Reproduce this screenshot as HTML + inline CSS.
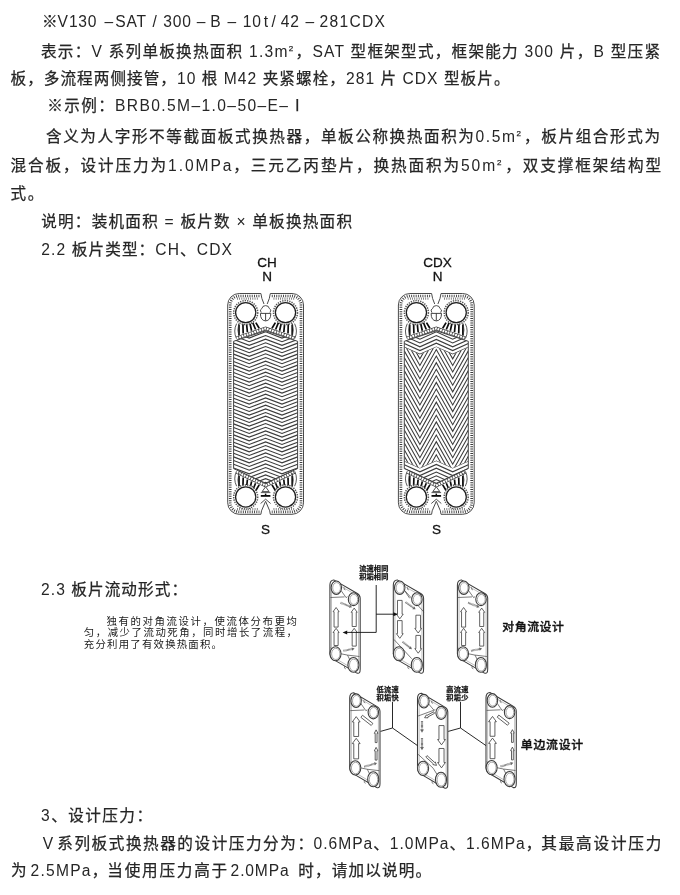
<!DOCTYPE html>
<html lang="zh">
<head>
<meta charset="utf-8">
<title>板式换热器 型号说明</title>
<style>
html,body{margin:0;padding:0;background:#fff;}
body{width:680px;height:895px;overflow:hidden;position:relative;}
svg{position:absolute;left:0;top:0;display:block;filter:grayscale(1);}
text{font-family:"Liberation Sans","Noto Sans CJK SC",sans-serif;fill:#262626;}
.t{font-size:15.6px;font-weight:400;stroke:#262626;stroke-width:0.25px;}
.e{stroke:none;}
.s{font-size:20.8px;font-weight:400;fill:#1a1a1a;}
.b{font-family:"Liberation Sans","Noto Sans CJK SC",sans-serif;font-weight:500;fill:#111;stroke:#111;stroke-width:0.35px;}
.lab{font-size:13.5px;font-weight:400;fill:#111;stroke:#111;stroke-width:0.3px;text-anchor:middle;}
.tiny{font-size:14.4px;font-weight:700;fill:#111;stroke:#111;stroke-width:0.5px;}
</style>
</head>
<body>
<svg width="680" height="895" viewBox="0 0 680 895">
<text class="t l" id="L0" y="26.5" xml:space="preserve"><tspan x="42.1">※</tspan><tspan class="e" x="57.4" letter-spacing="0.8">V </tspan><tspan class="e" x="68.9" letter-spacing="0.8">130 </tspan><tspan class="e" x="104.5" letter-spacing="0.8">– </tspan><tspan class="e" x="115.3" letter-spacing="0.8">SAT </tspan><tspan class="e" x="152.5" letter-spacing="0.8">/ </tspan><tspan class="e" x="163.2" letter-spacing="0.8">300 </tspan><tspan class="e" x="196.8" letter-spacing="0.8">– </tspan><tspan class="e" x="210.3" letter-spacing="0.8">B </tspan><tspan class="e" x="227.6" letter-spacing="0.8">– </tspan><tspan class="e" x="242.7" letter-spacing="0.8">10 </tspan><tspan class="e" x="263.8" letter-spacing="0.8">t </tspan><tspan class="e" x="271.6" letter-spacing="0.8">/ </tspan><tspan class="e" x="280.7" letter-spacing="0.8">42 </tspan><tspan class="e" x="305.6" letter-spacing="0.8">– </tspan><tspan class="e" x="319.5" textLength="65.5" lengthAdjust="spacing">281CDX</tspan></text>
<text class="t l" id="L0" x="41" y="56.5" textLength="619.0" lengthAdjust="spacing" xml:space="preserve">表示：<tspan class="e">V</tspan> 系列单板换热面积 <tspan class="e">1.3m</tspan><tspan dy="-6" font-size="8">2</tspan><tspan dy="6" font-size="15.6">​</tspan>，<tspan class="e">SAT</tspan> 型框架型式，框架能力 <tspan class="e">300</tspan> 片，<tspan class="e">B</tspan> 型压紧</text>
<text class="t l" id="L1" x="10.5" y="83.8" textLength="499.0" lengthAdjust="spacing" xml:space="preserve">板，多流程两侧接管，<tspan class="e">10</tspan> 根 <tspan class="e">M42</tspan> 夹紧螺栓，<tspan class="e">281</tspan> 片 <tspan class="e">CDX</tspan> 型板片。</text>
<text class="t l" id="L2" x="47.2" y="111.3" textLength="240.8" lengthAdjust="spacing" xml:space="preserve">※示例：<tspan class="e">BRB0.5M–1.0–50–E</tspan><tspan class="e">–</tspan></text>
<text class="t l" id="L3" x="46" y="141.5" textLength="614.0" lengthAdjust="spacing" xml:space="preserve">含义为人字形不等截面板式换热器，单板公称换热面积为<tspan class="e">0.5m</tspan><tspan dy="-6" font-size="8">2</tspan><tspan dy="6" font-size="15.6">​</tspan>，板片组合形式为</text>
<text class="t l" id="L4" x="10.5" y="170.5" textLength="650.5" lengthAdjust="spacing" xml:space="preserve">混合板，设计压力为<tspan class="e">1.0MPa</tspan>，三元乙丙垫片，换热面积为<tspan class="e">50m</tspan><tspan dy="-6" font-size="8">2</tspan><tspan dy="6" font-size="15.6">​</tspan>，双支撑框架结构型</text>
<text class="t l" id="L5" x="10.5" y="198.5" xml:space="preserve">式<tspan dx="1.6">。</tspan></text>
<text class="t l" id="L6" x="41.2" y="226.5" textLength="310.8" lengthAdjust="spacing" xml:space="preserve">说明：装机面积 <tspan class="e">=</tspan> 板片数 <tspan class="e">×</tspan> 单板换热面积</text>
<text class="t l" id="L7" x="41.2" y="254.8" textLength="190.8" lengthAdjust="spacing" xml:space="preserve"><tspan class="e">2.2</tspan> 板片类型：<tspan class="e">CH</tspan>、<tspan class="e">CDX</tspan></text>
<text class="t l" id="L8" x="41" y="594.5" textLength="146.0" lengthAdjust="spacing" xml:space="preserve"><tspan class="e">2.3</tspan> 板片流动形式：</text>
<text class="t l" id="L9" x="41" y="820.6" textLength="111.0" lengthAdjust="spacing" xml:space="preserve"><tspan class="e">3</tspan>、设计压力：</text>
<text class="t l" id="L10" x="42.8" y="848.7" xml:space="preserve"><tspan class="e">V</tspan> </text>
<text class="t l" id="L11" x="57.3" y="848.7" textLength="255.7" lengthAdjust="spacing" xml:space="preserve">系列板式换热器的设计压力分为：</text>
<text class="t l" id="L12" x="313.6" y="848.7" textLength="227.7" lengthAdjust="spacing" xml:space="preserve"><tspan class="e">0.6MPa</tspan>、<tspan class="e">1.0MPa</tspan>、<tspan class="e">1.6MPa</tspan>，</text>
<text class="t l" id="L13" x="541.3" y="848.7" textLength="120.0" lengthAdjust="spacing" xml:space="preserve">其最高设计压力</text>
<text class="t l" id="L14" x="11" y="876.3" xml:space="preserve">为 </text>
<text class="t l" id="L15" x="30.6" y="876.3" textLength="76.7" lengthAdjust="spacing" xml:space="preserve"><tspan class="e">2.5MPa</tspan>，</text>
<text class="t l" id="L16" x="107.3" y="876.3" textLength="119.9" lengthAdjust="spacing" xml:space="preserve">当使用压力高于</text>
<text class="t l" id="L17" x="230.6" y="876.3" textLength="58.0" lengthAdjust="spacing" xml:space="preserve"><tspan class="e">2.0MPa</tspan></text>
<text class="t l" id="L18" x="298.3" y="876.3" textLength="132.7" lengthAdjust="spacing" xml:space="preserve">时，请加以说明。</text>
<text class="t l" x="289.6" y="111.3">Ⅰ</text>
<text class="s l" id="S0" transform="translate(106.5 624.8) scale(0.5)" x="0" y="0" textLength="381.0" lengthAdjust="spacing">独有的对角流设计，使流体分布更均</text>
<text class="s l" id="S1" transform="translate(83.8 635.6) scale(0.5)" x="0" y="0" textLength="426.4" lengthAdjust="spacing">匀，减少了流动死角，同时增长了流程，</text>
<text class="s l" id="S2" transform="translate(83.8 647.8) scale(0.5)" x="0" y="0" textLength="276.4" lengthAdjust="spacing">充分利用了有效换热面积。</text>
<text class="lab l" x="267.1" y="266.9">CH</text>
<text class="lab l" x="267.1" y="281.4">N</text>
<text class="lab l" x="265.6" y="534.1">S</text>
<text class="lab l" x="437.6" y="266.9">CDX</text>
<text class="lab l" x="437.6" y="281.4">N</text>
<text class="lab l" x="436.4" y="534.1">S</text>
<g><path d="M260.90000000000003,293.5 L239.20000000000002,293.5 A11.5,11.5 0 0 0 227.70000000000002,305.0 L227.70000000000002,502.79999999999995 A11.5,11.5 0 0 0 239.20000000000002,514.3 L260.90000000000003,514.3 L261.50000000000006,510.79999999999995 L265.6,501.29999999999995 L269.7,510.79999999999995 L270.3,514.3 L292.0,514.3 A11.5,11.5 0 0 0 303.5,502.79999999999995 L303.5,305.0 A11.5,11.5 0 0 0 292.0,293.5 L270.3,293.5 L269.3,298.5 L267.20000000000005,304.0 M264.0,304.0 L261.90000000000003,298.5 L260.90000000000003,293.5" fill="none" stroke="#4a4a4a" stroke-width="1.0" stroke-linejoin="round"/>
<path d="M259.40000000000003,296.0 L239.20000000000002,296.0 A9.0,9.0 0 0 0 230.20000000000002,305.0 L230.20000000000002,502.79999999999995 A9.0,9.0 0 0 0 239.20000000000002,511.79999999999995 L259.40000000000003,511.79999999999995" fill="none" stroke="#3a3a3a" stroke-width="2.7" stroke-dasharray="0.9 1.35"/>
<path d="M259.40000000000003,296.0 L239.20000000000002,296.0 A9.0,9.0 0 0 0 230.20000000000002,305.0 L230.20000000000002,502.79999999999995 A9.0,9.0 0 0 0 239.20000000000002,511.79999999999995 L259.40000000000003,511.79999999999995" fill="none" stroke="#fff" stroke-width="0.7" stroke-dasharray="0.9 1.35" stroke-opacity="0"/>
<path d="M271.8,296.0 L292.0,296.0 A9.0,9.0 0 0 1 301.0,305.0 L301.0,502.79999999999995 A9.0,9.0 0 0 1 292.0,511.79999999999995 L271.8,511.79999999999995" fill="none" stroke="#3a3a3a" stroke-width="2.7" stroke-dasharray="0.9 1.35"/>
<path d="M271.8,296.0 L292.0,296.0 A9.0,9.0 0 0 1 301.0,305.0 L301.0,502.79999999999995 A9.0,9.0 0 0 1 292.0,511.79999999999995 L271.8,511.79999999999995" fill="none" stroke="#fff" stroke-width="0.7" stroke-dasharray="0.9 1.35" stroke-opacity="0"/>
<path d="M257.6,298.7 L236.60000000000002,298.7" fill="none" stroke="#555" stroke-width="2.2" stroke-dasharray="0.7 1.5"/>
<path d="M273.6,298.7 L294.6,298.7" fill="none" stroke="#555" stroke-width="2.2" stroke-dasharray="0.7 1.5"/>
<path d="M257.6,509.09999999999997 L236.60000000000002,509.09999999999997" fill="none" stroke="#555" stroke-width="2.2" stroke-dasharray="0.7 1.5"/>
<path d="M273.6,509.09999999999997 L294.6,509.09999999999997" fill="none" stroke="#555" stroke-width="2.2" stroke-dasharray="0.7 1.5"/>
<clipPath id="cp1"><path d="M233.60000000000002,341.3 L265.6,330.8 L297.6,341.3 L297.6,468.6 L265.6,483.2 L233.60000000000002,468.6 Z"/></clipPath>
<path clip-path="url(#cp1)" d="M233.6,321.10 L249.2,327.03 L265.6,320.80 L282.0,327.03 L297.6,321.10 M233.6,324.77 L249.2,330.70 L265.6,324.47 L282.0,330.70 L297.6,324.77 M233.6,328.44 L249.2,334.37 L265.6,328.14 L282.0,334.37 L297.6,328.44 M233.6,332.11 L249.2,338.04 L265.6,331.81 L282.0,338.04 L297.6,332.11 M233.6,335.78 L249.2,341.71 L265.6,335.48 L282.0,341.71 L297.6,335.78 M233.6,339.45 L249.2,345.38 L265.6,339.15 L282.0,345.38 L297.6,339.45 M233.6,343.12 L249.2,349.05 L265.6,342.82 L282.0,349.05 L297.6,343.12 M233.6,346.79 L249.2,352.72 L265.6,346.49 L282.0,352.72 L297.6,346.79 M233.6,350.46 L249.2,356.39 L265.6,350.16 L282.0,356.39 L297.6,350.46 M233.6,354.13 L249.2,360.06 L265.6,353.83 L282.0,360.06 L297.6,354.13 M233.6,357.80 L249.2,363.73 L265.6,357.50 L282.0,363.73 L297.6,357.80 M233.6,361.47 L249.2,367.40 L265.6,361.17 L282.0,367.40 L297.6,361.47 M233.6,365.14 L249.2,371.07 L265.6,364.84 L282.0,371.07 L297.6,365.14 M233.6,368.81 L249.2,374.74 L265.6,368.51 L282.0,374.74 L297.6,368.81 M233.6,372.48 L249.2,378.41 L265.6,372.18 L282.0,378.41 L297.6,372.48 M233.6,376.15 L249.2,382.08 L265.6,375.85 L282.0,382.08 L297.6,376.15 M233.6,379.82 L249.2,385.75 L265.6,379.52 L282.0,385.75 L297.6,379.82 M233.6,383.49 L249.2,389.42 L265.6,383.19 L282.0,389.42 L297.6,383.49 M233.6,387.16 L249.2,393.09 L265.6,386.86 L282.0,393.09 L297.6,387.16 M233.6,390.83 L249.2,396.76 L265.6,390.53 L282.0,396.76 L297.6,390.83 M233.6,394.50 L249.2,400.43 L265.6,394.20 L282.0,400.43 L297.6,394.50 M233.6,398.17 L249.2,404.10 L265.6,397.87 L282.0,404.10 L297.6,398.17 M233.6,401.84 L249.2,407.77 L265.6,401.54 L282.0,407.77 L297.6,401.84 M233.6,405.51 L249.2,411.44 L265.6,405.21 L282.0,411.44 L297.6,405.51 M233.6,409.18 L249.2,415.11 L265.6,408.88 L282.0,415.11 L297.6,409.18 M233.6,412.85 L249.2,418.78 L265.6,412.55 L282.0,418.78 L297.6,412.85 M233.6,416.52 L249.2,422.45 L265.6,416.22 L282.0,422.45 L297.6,416.52 M233.6,420.19 L249.2,426.12 L265.6,419.89 L282.0,426.12 L297.6,420.19 M233.6,423.86 L249.2,429.79 L265.6,423.56 L282.0,429.79 L297.6,423.86 M233.6,427.53 L249.2,433.46 L265.6,427.23 L282.0,433.46 L297.6,427.53 M233.6,431.20 L249.2,437.13 L265.6,430.90 L282.0,437.13 L297.6,431.20 M233.6,434.87 L249.2,440.80 L265.6,434.57 L282.0,440.80 L297.6,434.87 M233.6,438.54 L249.2,444.47 L265.6,438.24 L282.0,444.47 L297.6,438.54 M233.6,442.21 L249.2,448.14 L265.6,441.91 L282.0,448.14 L297.6,442.21 M233.6,445.88 L249.2,451.81 L265.6,445.58 L282.0,451.81 L297.6,445.88 M233.6,449.55 L249.2,455.48 L265.6,449.25 L282.0,455.48 L297.6,449.55 M233.6,453.22 L249.2,459.15 L265.6,452.92 L282.0,459.15 L297.6,453.22 M233.6,456.89 L249.2,462.82 L265.6,456.59 L282.0,462.82 L297.6,456.89 M233.6,460.56 L249.2,466.49 L265.6,460.26 L282.0,466.49 L297.6,460.56 M233.6,464.23 L249.2,470.16 L265.6,463.93 L282.0,470.16 L297.6,464.23 M233.6,467.90 L249.2,473.83 L265.6,467.60 L282.0,473.83 L297.6,467.90 M233.6,471.57 L249.2,477.50 L265.6,471.27 L282.0,477.50 L297.6,471.57 M233.6,475.24 L249.2,481.17 L265.6,474.94 L282.0,481.17 L297.6,475.24 M233.6,478.91 L249.2,484.84 L265.6,478.61 L282.0,484.84 L297.6,478.91 M233.6,482.58 L249.2,488.51 L265.6,482.28 L282.0,488.51 L297.6,482.58 M233.6,486.25 L249.2,492.18 L265.6,485.95 L282.0,492.18 L297.6,486.25 M233.6,489.92 L249.2,495.85 L265.6,489.62 L282.0,495.85 L297.6,489.92" fill="none" stroke="#3c3c3c" stroke-width="1.12"/>
<path d="M233.60000000000002,341.3 L265.6,330.8 L297.6,341.3 L297.6,468.6 L265.6,483.2 L233.60000000000002,468.6 Z" fill="none" stroke="#303030" stroke-width="0.9"/>
<path d="M236.60000000000002,338.1 L265.6,328.5 L294.6,338.1" fill="none" stroke="#3c3c3c" stroke-width="3.6" stroke-linejoin="miter"/>
<path d="M236.60000000000002,338.1 L265.6,328.5 L294.6,338.1" fill="none" stroke="#fff" stroke-width="2.3" stroke-dasharray="1.9 0.75"/>
<path d="M236.60000000000002,471.8 L265.6,485.5 L294.6,471.8" fill="none" stroke="#3c3c3c" stroke-width="3.6" stroke-linejoin="miter"/>
<path d="M236.60000000000002,471.8 L265.6,485.5 L294.6,471.8" fill="none" stroke="#fff" stroke-width="2.3" stroke-dasharray="1.9 0.75"/>
<path d="M239.00,334.93 L239.00,324.43 M239.00,475.66 L239.00,486.16 M292.20,334.93 L292.20,324.43 M292.20,475.66 L292.20,486.16 M243.20,333.55 L242.89,323.05 M243.20,477.58 L242.89,488.08 M288.00,333.55 L288.31,323.05 M288.00,477.58 L288.31,488.08 M247.40,332.17 L246.46,322.75 M247.40,479.50 L246.46,488.92 M283.80,332.17 L284.74,322.75 M283.80,479.50 L284.74,488.92 M251.60,330.79 L249.82,322.71 M251.60,481.41 L249.82,489.49 M279.60,330.79 L281.38,322.71 M279.60,481.41 L281.38,489.49 M255.60,329.48 L252.74,322.68 M255.60,483.24 L252.74,490.04 M275.60,329.48 L278.46,322.68 M275.60,483.24 L278.46,490.04 M259.20,328.30 L255.81,322.65 M259.20,484.88 L255.81,490.53 M272.00,328.30 L275.39,322.65 M272.00,484.88 L275.39,490.53" fill="none" stroke="#0c0c0c" stroke-width="1.7"/>
<path d="M236.60000000000002,323.6 Q233.00000000000003,331 236.40000000000003,338.5 M238.80000000000004,323.4 Q237.00000000000003,330 239.00000000000003,336.8" fill="none" stroke="#303030" stroke-width="0.8"/>
<path d="M236.60000000000002,486.2 Q233.00000000000003,479 236.40000000000003,471.4 M238.80000000000004,486.4 Q237.00000000000003,480 239.00000000000003,473" fill="none" stroke="#303030" stroke-width="0.8"/>
<path d="M294.6,323.6 Q298.2,331 294.8,338.5 M292.40000000000003,323.4 Q294.2,330 292.2,336.8" fill="none" stroke="#303030" stroke-width="0.8"/>
<path d="M294.6,486.2 Q298.2,479 294.8,471.4 M292.40000000000003,486.4 Q294.2,480 292.2,473" fill="none" stroke="#303030" stroke-width="0.8"/>
<circle cx="245.70000000000002" cy="312.6" r="12.0" fill="#fff" stroke="#555" stroke-width="1.5" stroke-dasharray="1.3 1.1"/>
<circle cx="245.70000000000002" cy="312.6" r="10.1" fill="#fff" stroke="#1e1e1e" stroke-width="1.25"/>
<circle cx="285.5" cy="312.6" r="12.0" fill="#fff" stroke="#555" stroke-width="1.5" stroke-dasharray="1.3 1.1"/>
<circle cx="285.5" cy="312.6" r="10.1" fill="#fff" stroke="#1e1e1e" stroke-width="1.25"/>
<circle cx="245.70000000000002" cy="496.9" r="12.0" fill="#fff" stroke="#555" stroke-width="1.5" stroke-dasharray="1.3 1.1"/>
<circle cx="245.70000000000002" cy="496.9" r="10.1" fill="#fff" stroke="#1e1e1e" stroke-width="1.25"/>
<circle cx="285.5" cy="496.9" r="12.0" fill="#fff" stroke="#555" stroke-width="1.5" stroke-dasharray="1.3 1.1"/>
<circle cx="285.5" cy="496.9" r="10.1" fill="#fff" stroke="#1e1e1e" stroke-width="1.25"/>
<path d="M261.20000000000005,312.6 Q259.0,309.6 262.0,308.4 Q262.20000000000005,305.7 265.6,305.6 Q269.0,305.7 269.20000000000005,308.4 Q272.20000000000005,309.6 270.0,312.6" fill="#fff" stroke="#303030" stroke-width="0.85"/>
<path d="M260.40000000000003,313.4 H270.8 Q270.8,320.6 265.6,320.9 Q260.40000000000003,320.6 260.40000000000003,313.4 Z M265.6,313.4 V320.6" fill="#fff" stroke="#303030" stroke-width="0.9"/>
<path d="M262.1,491.6 L265.6,486.8 L269.1,491.6 Z" fill="#fff" stroke="#303030" stroke-width="0.85"/>
<path d="M260.8,492.6 H270.40000000000003" stroke="#303030" stroke-width="0.8"/>
<path d="M260.8,495.9 H270.40000000000003" stroke="#0c0c0c" stroke-width="1.8"/>
<path d="M265.6,493.6 V495.5" stroke="#0c0c0c" stroke-width="1.5"/>
<path d="M260.6,503.5 L265.6,499.2 L270.6,503.5" fill="none" stroke="#303030" stroke-width="0.85"/></g>
<g><path d="M431.6,293.5 L409.90000000000003,293.5 A11.5,11.5 0 0 0 398.40000000000003,305.0 L398.40000000000003,502.79999999999995 A11.5,11.5 0 0 0 409.90000000000003,514.3 L431.6,514.3 L432.20000000000005,510.79999999999995 L436.3,501.29999999999995 L440.4,510.79999999999995 L441.0,514.3 L462.7,514.3 A11.5,11.5 0 0 0 474.2,502.79999999999995 L474.2,305.0 A11.5,11.5 0 0 0 462.7,293.5 L441.0,293.5 L440.0,298.5 L437.90000000000003,304.0 M434.7,304.0 L432.6,298.5 L431.6,293.5" fill="none" stroke="#4a4a4a" stroke-width="1.0" stroke-linejoin="round"/>
<path d="M430.1,296.0 L409.90000000000003,296.0 A9.0,9.0 0 0 0 400.90000000000003,305.0 L400.90000000000003,502.79999999999995 A9.0,9.0 0 0 0 409.90000000000003,511.79999999999995 L430.1,511.79999999999995" fill="none" stroke="#3a3a3a" stroke-width="2.7" stroke-dasharray="0.9 1.35"/>
<path d="M430.1,296.0 L409.90000000000003,296.0 A9.0,9.0 0 0 0 400.90000000000003,305.0 L400.90000000000003,502.79999999999995 A9.0,9.0 0 0 0 409.90000000000003,511.79999999999995 L430.1,511.79999999999995" fill="none" stroke="#fff" stroke-width="0.7" stroke-dasharray="0.9 1.35" stroke-opacity="0"/>
<path d="M442.5,296.0 L462.7,296.0 A9.0,9.0 0 0 1 471.7,305.0 L471.7,502.79999999999995 A9.0,9.0 0 0 1 462.7,511.79999999999995 L442.5,511.79999999999995" fill="none" stroke="#3a3a3a" stroke-width="2.7" stroke-dasharray="0.9 1.35"/>
<path d="M442.5,296.0 L462.7,296.0 A9.0,9.0 0 0 1 471.7,305.0 L471.7,502.79999999999995 A9.0,9.0 0 0 1 462.7,511.79999999999995 L442.5,511.79999999999995" fill="none" stroke="#fff" stroke-width="0.7" stroke-dasharray="0.9 1.35" stroke-opacity="0"/>
<path d="M428.3,298.7 L407.3,298.7" fill="none" stroke="#555" stroke-width="2.2" stroke-dasharray="0.7 1.5"/>
<path d="M444.3,298.7 L465.3,298.7" fill="none" stroke="#555" stroke-width="2.2" stroke-dasharray="0.7 1.5"/>
<path d="M428.3,509.09999999999997 L407.3,509.09999999999997" fill="none" stroke="#555" stroke-width="2.2" stroke-dasharray="0.7 1.5"/>
<path d="M444.3,509.09999999999997 L465.3,509.09999999999997" fill="none" stroke="#555" stroke-width="2.2" stroke-dasharray="0.7 1.5"/>
<clipPath id="cp2"><path d="M404.3,341.3 L436.3,330.8 L468.3,341.3 L468.3,468.6 L436.3,483.2 L404.3,468.6 Z"/></clipPath>
<clipPath id="cp2a"><path d="M404.3,0 L404.30,347.36 L419.90,354.38 L436.30,347.00 L452.70,354.38 L468.30,347.36 L468.3,0 Z"/></clipPath>
<clipPath id="cp2b"><path d="M404.3,900 L404.30,460.96 L419.90,467.98 L436.30,460.60 L452.70,467.98 L468.30,460.96 L468.3,900 Z"/></clipPath>
<clipPath id="cp2m"><path d="M404.30,347.36 L419.90,354.38 L436.30,347.00 L452.70,354.38 L468.30,347.36 L468.30,460.96 L452.70,467.98 L436.30,460.60 L419.90,467.98 L404.30,460.96 Z"/></clipPath>
<g clip-path="url(#cp2)"><path clip-path="url(#cp2a)" d="M404.3,347.36 L419.9,354.38 L436.3,347.00 L452.7,354.38 L468.3,347.36 M404.3,343.56 L419.9,350.58 L436.3,343.20 L452.7,350.58 L468.3,343.56 M404.3,339.76 L419.9,346.78 L436.3,339.40 L452.7,346.78 L468.3,339.76 M404.3,335.96 L419.9,342.98 L436.3,335.60 L452.7,342.98 L468.3,335.96 M404.3,332.16 L419.9,339.18 L436.3,331.80 L452.7,339.18 L468.3,332.16 M404.3,328.36 L419.9,335.38 L436.3,328.00 L452.7,335.38 L468.3,328.36 M404.3,324.56 L419.9,331.58 L436.3,324.20 L452.7,331.58 L468.3,324.56 M404.3,320.76 L419.9,327.78 L436.3,320.40 L452.7,327.78 L468.3,320.76" fill="none" stroke="#3c3c3c" stroke-width="1.12"/></g>
<g clip-path="url(#cp2)"><path clip-path="url(#cp2b)" d="M404.3,460.96 L419.9,467.98 L436.3,460.60 L452.7,467.98 L468.3,460.96 M404.3,464.76 L419.9,471.78 L436.3,464.40 L452.7,471.78 L468.3,464.76 M404.3,468.56 L419.9,475.58 L436.3,468.20 L452.7,475.58 L468.3,468.56 M404.3,472.36 L419.9,479.38 L436.3,472.00 L452.7,479.38 L468.3,472.36 M404.3,476.16 L419.9,483.18 L436.3,475.80 L452.7,483.18 L468.3,476.16 M404.3,479.96 L419.9,486.98 L436.3,479.60 L452.7,486.98 L468.3,479.96 M404.3,483.76 L419.9,490.78 L436.3,483.40 L452.7,490.78 L468.3,483.76 M404.3,487.56 L419.9,494.58 L436.3,487.20 L452.7,494.58 L468.3,487.56 M404.3,491.36 L419.9,498.38 L436.3,491.00 L452.7,498.38 L468.3,491.36 M404.3,495.16 L419.9,502.18 L436.3,494.80 L452.7,502.18 L468.3,495.16" fill="none" stroke="#3c3c3c" stroke-width="1.12"/></g>
<g clip-path="url(#cp2)"><path clip-path="url(#cp2m)" d="M404.3,278.42 L419.9,306.19 L436.3,277.00 L452.7,306.19 L468.3,278.42 M404.3,285.01 L419.9,312.78 L436.3,283.59 L452.7,312.78 L468.3,285.01 M404.3,291.60 L419.9,319.36 L436.3,290.17 L452.7,319.36 L468.3,291.60 M404.3,298.18 L419.9,325.95 L436.3,296.76 L452.7,325.95 L468.3,298.18 M404.3,304.77 L419.9,332.54 L436.3,303.34 L452.7,332.54 L468.3,304.77 M404.3,311.35 L419.9,339.12 L436.3,309.93 L452.7,339.12 L468.3,311.35 M404.3,317.94 L419.9,345.71 L436.3,316.52 L452.7,345.71 L468.3,317.94 M404.3,324.53 L419.9,352.29 L436.3,323.10 L452.7,352.29 L468.3,324.53 M404.3,331.11 L419.9,358.88 L436.3,329.69 L452.7,358.88 L468.3,331.11 M404.3,337.70 L419.9,365.47 L436.3,336.27 L452.7,365.47 L468.3,337.70 M404.3,344.28 L419.9,372.05 L436.3,342.86 L452.7,372.05 L468.3,344.28 M404.3,350.87 L419.9,378.64 L436.3,349.45 L452.7,378.64 L468.3,350.87 M404.3,357.46 L419.9,385.22 L436.3,356.03 L452.7,385.22 L468.3,357.46 M404.3,364.04 L419.9,391.81 L436.3,362.62 L452.7,391.81 L468.3,364.04 M404.3,370.63 L419.9,398.40 L436.3,369.20 L452.7,398.40 L468.3,370.63 M404.3,377.21 L419.9,404.98 L436.3,375.79 L452.7,404.98 L468.3,377.21 M404.3,383.80 L419.9,411.57 L436.3,382.38 L452.7,411.57 L468.3,383.80 M404.3,390.39 L419.9,418.15 L436.3,388.96 L452.7,418.15 L468.3,390.39 M404.3,396.97 L419.9,424.74 L436.3,395.55 L452.7,424.74 L468.3,396.97 M404.3,403.56 L419.9,431.33 L436.3,402.13 L452.7,431.33 L468.3,403.56 M404.3,410.14 L419.9,437.91 L436.3,408.72 L452.7,437.91 L468.3,410.14 M404.3,416.73 L419.9,444.50 L436.3,415.31 L452.7,444.50 L468.3,416.73 M404.3,423.32 L419.9,451.08 L436.3,421.89 L452.7,451.08 L468.3,423.32 M404.3,429.90 L419.9,457.67 L436.3,428.48 L452.7,457.67 L468.3,429.90 M404.3,436.49 L419.9,464.26 L436.3,435.06 L452.7,464.26 L468.3,436.49 M404.3,443.07 L419.9,470.84 L436.3,441.65 L452.7,470.84 L468.3,443.07 M404.3,449.66 L419.9,477.43 L436.3,448.24 L452.7,477.43 L468.3,449.66 M404.3,456.25 L419.9,484.01 L436.3,454.82 L452.7,484.01 L468.3,456.25 M404.3,462.83 L419.9,490.60 L436.3,461.41 L452.7,490.60 L468.3,462.83 M404.3,469.42 L419.9,497.19 L436.3,467.99 L452.7,497.19 L468.3,469.42 M404.3,476.00 L419.9,503.77 L436.3,474.58 L452.7,503.77 L468.3,476.00 M404.3,482.59 L419.9,510.36 L436.3,481.17 L452.7,510.36 L468.3,482.59 M404.3,489.18 L419.9,516.94 L436.3,487.75 L452.7,516.94 L468.3,489.18 M404.3,495.76 L419.9,523.53 L436.3,494.34 L452.7,523.53 L468.3,495.76 M404.3,502.35 L419.9,530.12 L436.3,500.92 L452.7,530.12 L468.3,502.35 M404.3,508.93 L419.9,536.70 L436.3,507.51 L452.7,536.70 L468.3,508.93 M404.3,515.52 L419.9,543.29 L436.3,514.10 L452.7,543.29 L468.3,515.52 M404.3,522.11 L419.9,549.87 L436.3,520.68 L452.7,549.87 L468.3,522.11 M404.3,528.69 L419.9,556.46 L436.3,527.27 L452.7,556.46 L468.3,528.69" fill="none" stroke="#3a3a3a" stroke-width="1.05"/></g>
<path d="M404.3,341.3 L436.3,330.8 L468.3,341.3 L468.3,468.6 L436.3,483.2 L404.3,468.6 Z" fill="none" stroke="#303030" stroke-width="0.9"/>
<path d="M407.3,338.1 L436.3,328.5 L465.3,338.1" fill="none" stroke="#3c3c3c" stroke-width="3.6" stroke-linejoin="miter"/>
<path d="M407.3,338.1 L436.3,328.5 L465.3,338.1" fill="none" stroke="#fff" stroke-width="2.3" stroke-dasharray="1.9 0.75"/>
<path d="M407.3,471.8 L436.3,485.5 L465.3,471.8" fill="none" stroke="#3c3c3c" stroke-width="3.6" stroke-linejoin="miter"/>
<path d="M407.3,471.8 L436.3,485.5 L465.3,471.8" fill="none" stroke="#fff" stroke-width="2.3" stroke-dasharray="1.9 0.75"/>
<path d="M409.70,334.93 L409.70,324.43 M409.70,475.66 L409.70,486.16 M462.90,334.93 L462.90,324.43 M462.90,475.66 L462.90,486.16 M413.90,333.55 L413.59,323.05 M413.90,477.58 L413.59,488.08 M458.70,333.55 L459.01,323.05 M458.70,477.58 L459.01,488.08 M418.10,332.17 L417.16,322.75 M418.10,479.50 L417.16,488.92 M454.50,332.17 L455.44,322.75 M454.50,479.50 L455.44,488.92 M422.30,330.79 L420.52,322.71 M422.30,481.41 L420.52,489.49 M450.30,330.79 L452.08,322.71 M450.30,481.41 L452.08,489.49 M426.30,329.48 L423.44,322.68 M426.30,483.24 L423.44,490.04 M446.30,329.48 L449.16,322.68 M446.30,483.24 L449.16,490.04 M429.90,328.30 L426.51,322.65 M429.90,484.88 L426.51,490.53 M442.70,328.30 L446.09,322.65 M442.70,484.88 L446.09,490.53" fill="none" stroke="#0c0c0c" stroke-width="1.7"/>
<path d="M407.3,323.6 Q403.70000000000005,331 407.1,338.5 M409.5,323.4 Q407.70000000000005,330 409.70000000000005,336.8" fill="none" stroke="#303030" stroke-width="0.8"/>
<path d="M407.3,486.2 Q403.70000000000005,479 407.1,471.4 M409.5,486.4 Q407.70000000000005,480 409.70000000000005,473" fill="none" stroke="#303030" stroke-width="0.8"/>
<path d="M465.3,323.6 Q468.9,331 465.5,338.5 M463.1,323.4 Q464.9,330 462.9,336.8" fill="none" stroke="#303030" stroke-width="0.8"/>
<path d="M465.3,486.2 Q468.9,479 465.5,471.4 M463.1,486.4 Q464.9,480 462.9,473" fill="none" stroke="#303030" stroke-width="0.8"/>
<circle cx="416.40000000000003" cy="312.6" r="12.0" fill="#fff" stroke="#555" stroke-width="1.5" stroke-dasharray="1.3 1.1"/>
<circle cx="416.40000000000003" cy="312.6" r="10.1" fill="#fff" stroke="#1e1e1e" stroke-width="1.25"/>
<circle cx="456.2" cy="312.6" r="12.0" fill="#fff" stroke="#555" stroke-width="1.5" stroke-dasharray="1.3 1.1"/>
<circle cx="456.2" cy="312.6" r="10.1" fill="#fff" stroke="#1e1e1e" stroke-width="1.25"/>
<circle cx="416.40000000000003" cy="496.9" r="12.0" fill="#fff" stroke="#555" stroke-width="1.5" stroke-dasharray="1.3 1.1"/>
<circle cx="416.40000000000003" cy="496.9" r="10.1" fill="#fff" stroke="#1e1e1e" stroke-width="1.25"/>
<circle cx="456.2" cy="496.9" r="12.0" fill="#fff" stroke="#555" stroke-width="1.5" stroke-dasharray="1.3 1.1"/>
<circle cx="456.2" cy="496.9" r="10.1" fill="#fff" stroke="#1e1e1e" stroke-width="1.25"/>
<path d="M431.90000000000003,312.6 Q429.7,309.6 432.7,308.4 Q432.90000000000003,305.7 436.3,305.6 Q439.7,305.7 439.90000000000003,308.4 Q442.90000000000003,309.6 440.7,312.6" fill="#fff" stroke="#303030" stroke-width="0.85"/>
<path d="M431.1,313.4 H441.5 Q441.5,320.6 436.3,320.9 Q431.1,320.6 431.1,313.4 Z M436.3,313.4 V320.6" fill="#fff" stroke="#303030" stroke-width="0.9"/>
<path d="M432.8,491.6 L436.3,486.8 L439.8,491.6 Z" fill="#fff" stroke="#303030" stroke-width="0.85"/>
<path d="M431.5,492.6 H441.1" stroke="#303030" stroke-width="0.8"/>
<path d="M431.5,495.9 H441.1" stroke="#0c0c0c" stroke-width="1.8"/>
<path d="M436.3,493.6 V495.5" stroke="#0c0c0c" stroke-width="1.5"/>
<path d="M431.3,503.5 L436.3,499.2 L441.3,503.5" fill="none" stroke="#303030" stroke-width="0.85"/></g>
<g transform="translate(329.9 579.7) scale(1 1.0)" fill="none" stroke="#3c3c3c" stroke-width="0.9" stroke-linejoin="round">
<path d="M0,5.2 Q0.1,0.4 3.9,0.2 L27.0,13.6 Q30.2,15.4 30.3,18.6 L30.3,89.6 Q30.3,94.6 27.0,93.4 L4.2,80.2 Q0.3,77.6 0,74.0 Z" fill="#fff" stroke-width="1.05"/>
<path d="M1.6,6.2 Q1.8,2.8 4.4,2.6 L26.0,15.2 Q28.6,16.6 28.7,19.4 L28.7,88.6 Q28.6,91.8 26.3,90.9 L5.2,78.6 Q1.8,76.2 1.6,73.2 Z" stroke="#8a8a8a" stroke-width="0.55"/>
<path d="M0.6,17.8 L14.6,17.2 M11.0,10.6 L16.2,17.9 L17.6,17.0 M10.6,74.0 L17.6,75.4 L19.6,79.4 M17.6,75.4 L29.5,76.8 M0.8,68 L2.4,70" stroke="#444" stroke-width="0.7"/>
<ellipse cx="6.4" cy="8.0" rx="5.2" ry="6.7" fill="#fff" stroke="#3c3c3c" stroke-width="1.1"/>
<ellipse cx="6.7" cy="8.2" rx="3.9000000000000004" ry="5.300000000000001" stroke="#9a9a9a" stroke-width="0.9"/>
<ellipse cx="23.6" cy="19.5" rx="5.2" ry="6.4" fill="#fff" stroke="#3c3c3c" stroke-width="1.1"/>
<ellipse cx="23.900000000000002" cy="19.7" rx="3.9000000000000004" ry="5.0" stroke="#9a9a9a" stroke-width="0.9"/>
<ellipse cx="5.6" cy="74.0" rx="5.5" ry="7.0" fill="#fff" stroke="#3c3c3c" stroke-width="1.1"/>
<ellipse cx="5.8999999999999995" cy="74.2" rx="4.2" ry="5.6" stroke="#9a9a9a" stroke-width="0.9"/>
<ellipse cx="23.5" cy="85.2" rx="5.5" ry="7.4" fill="#fff" stroke="#3c3c3c" stroke-width="1.1"/>
<ellipse cx="23.8" cy="85.4" rx="4.2" ry="6.0" stroke="#9a9a9a" stroke-width="0.9"/>
<path d="M14.2,7.6 L14.2,9.6 L15.6,10.2 M14.6,86.4 L14.6,88.4 L16,89.2" stroke="#444" stroke-width="0.6"/>
<path d="M8.24,47.40 L8.24,32.00 L9.20,32.00 L6.20,27.80 L3.20,32.00 L4.16,32.00 L4.16,47.40 Z M8.24,65.80 L8.24,52.80 L9.20,52.80 L6.20,48.60 L3.20,52.80 L4.16,52.80 L4.16,65.80 Z M26.34,46.80 L26.34,32.60 L27.30,32.60 L24.30,28.40 L21.30,32.60 L22.26,32.60 L22.26,46.80 Z M26.34,66.40 L26.34,52.80 L27.30,52.80 L24.30,48.60 L21.30,52.80 L22.26,52.80 L22.26,66.40 Z" fill="#fff" stroke="#3c3c3c" stroke-width="0.8"/>
<path d="M10.7,23.1 L20.1,26.7" stroke="#666" stroke-width="2.0" stroke-dasharray="0.7 0.5"/>
<path d="M19.03,28.11 L22.15,27.49 L20.24,24.93 Z" fill="#666" stroke="none"/>
<path d="M13.6,71.1 L22.5,69.3" stroke="#666" stroke-width="2.0" stroke-dasharray="0.7 0.5"/>
<path d="M22.35,71.07 L24.66,68.86 L21.67,67.73 Z" fill="#666" stroke="none"/>
</g>
<g transform="translate(393.3 579.7) scale(1 1.0)" fill="none" stroke="#3c3c3c" stroke-width="0.9" stroke-linejoin="round">
<path d="M0,5.2 Q0.1,0.4 3.9,0.2 L27.0,13.6 Q30.2,15.4 30.3,18.6 L30.3,89.6 Q30.3,94.6 27.0,93.4 L4.2,80.2 Q0.3,77.6 0,74.0 Z" fill="#fff" stroke-width="1.05"/>
<path d="M1.6,6.2 Q1.8,2.8 4.4,2.6 L26.0,15.2 Q28.6,16.6 28.7,19.4 L28.7,88.6 Q28.6,91.8 26.3,90.9 L5.2,78.6 Q1.8,76.2 1.6,73.2 Z" stroke="#8a8a8a" stroke-width="0.55"/>
<path d="M11.4,10.8 L30.6,32.4 M0.5,59.6 L18.4,79.0 M11.0,10.6 L16.4,18.6" stroke="#444" stroke-width="0.7"/>
<ellipse cx="6.4" cy="8.0" rx="5.2" ry="6.7" fill="#fff" stroke="#3c3c3c" stroke-width="1.1"/>
<ellipse cx="6.7" cy="8.2" rx="3.9000000000000004" ry="5.300000000000001" stroke="#9a9a9a" stroke-width="0.9"/>
<ellipse cx="23.6" cy="19.5" rx="5.2" ry="6.4" fill="#fff" stroke="#3c3c3c" stroke-width="1.1"/>
<ellipse cx="23.900000000000002" cy="19.7" rx="3.9000000000000004" ry="5.0" stroke="#9a9a9a" stroke-width="0.9"/>
<ellipse cx="5.6" cy="74.0" rx="5.5" ry="7.0" fill="#fff" stroke="#3c3c3c" stroke-width="1.1"/>
<ellipse cx="5.8999999999999995" cy="74.2" rx="4.2" ry="5.6" stroke="#9a9a9a" stroke-width="0.9"/>
<ellipse cx="23.5" cy="85.2" rx="5.5" ry="7.4" fill="#fff" stroke="#3c3c3c" stroke-width="1.1"/>
<ellipse cx="23.8" cy="85.4" rx="4.2" ry="6.0" stroke="#9a9a9a" stroke-width="0.9"/>
<path d="M14.2,7.6 L14.2,9.6 L15.6,10.2 M14.6,86.4 L14.6,88.4 L16,89.2" stroke="#444" stroke-width="0.6"/>
<path d="M4.19,20.70 L4.19,34.50 L3.10,34.50 L6.50,39.10 L9.90,34.50 L8.81,34.50 L8.81,20.70 Z M4.19,40.90 L4.19,54.00 L3.10,54.00 L6.50,58.60 L9.90,54.00 L8.81,54.00 L8.81,40.90 Z M22.59,35.50 L22.59,48.70 L21.50,48.70 L24.90,53.30 L28.30,48.70 L27.21,48.70 L27.21,35.50 Z M22.59,55.70 L22.59,68.90 L21.50,68.90 L24.90,73.50 L28.30,68.90 L27.21,68.90 L27.21,55.70 Z" fill="#fff" stroke="#3c3c3c" stroke-width="0.8"/>
<path d="M12.2,22.5 L20.5,28.4" stroke="#666" stroke-width="2.0" stroke-dasharray="0.7 0.5"/>
<path d="M19.11,29.50 L22.29,29.67 L21.08,26.72 Z" fill="#666" stroke="none"/>
<path d="M9.2,62.2 L16.9,68.1" stroke="#666" stroke-width="2.0" stroke-dasharray="0.7 0.5"/>
<path d="M15.47,69.15 L18.65,69.44 L17.54,66.45 Z" fill="#666" stroke="none"/>
</g>
<g transform="translate(457.4 579.7) scale(1 1.0)" fill="none" stroke="#3c3c3c" stroke-width="0.9" stroke-linejoin="round">
<path d="M0,5.2 Q0.1,0.4 3.9,0.2 L27.0,13.6 Q30.2,15.4 30.3,18.6 L30.3,89.6 Q30.3,94.6 27.0,93.4 L4.2,80.2 Q0.3,77.6 0,74.0 Z" fill="#fff" stroke-width="1.05"/>
<path d="M1.6,6.2 Q1.8,2.8 4.4,2.6 L26.0,15.2 Q28.6,16.6 28.7,19.4 L28.7,88.6 Q28.6,91.8 26.3,90.9 L5.2,78.6 Q1.8,76.2 1.6,73.2 Z" stroke="#8a8a8a" stroke-width="0.55"/>
<path d="M0.6,17.8 L14.6,17.2 M11.0,10.6 L16.2,17.9 L17.6,17.0 M10.6,74.0 L17.6,75.4 L19.6,79.4 M17.6,75.4 L29.5,76.8 M0.8,68 L2.4,70" stroke="#444" stroke-width="0.7"/>
<ellipse cx="6.4" cy="8.0" rx="5.2" ry="6.7" fill="#fff" stroke="#3c3c3c" stroke-width="1.1"/>
<ellipse cx="6.7" cy="8.2" rx="3.9000000000000004" ry="5.300000000000001" stroke="#9a9a9a" stroke-width="0.9"/>
<ellipse cx="23.6" cy="19.5" rx="5.2" ry="6.4" fill="#fff" stroke="#3c3c3c" stroke-width="1.1"/>
<ellipse cx="23.900000000000002" cy="19.7" rx="3.9000000000000004" ry="5.0" stroke="#9a9a9a" stroke-width="0.9"/>
<ellipse cx="5.6" cy="74.0" rx="5.5" ry="7.0" fill="#fff" stroke="#3c3c3c" stroke-width="1.1"/>
<ellipse cx="5.8999999999999995" cy="74.2" rx="4.2" ry="5.6" stroke="#9a9a9a" stroke-width="0.9"/>
<ellipse cx="23.5" cy="85.2" rx="5.5" ry="7.4" fill="#fff" stroke="#3c3c3c" stroke-width="1.1"/>
<ellipse cx="23.8" cy="85.4" rx="4.2" ry="6.0" stroke="#9a9a9a" stroke-width="0.9"/>
<path d="M14.2,7.6 L14.2,9.6 L15.6,10.2 M14.6,86.4 L14.6,88.4 L16,89.2" stroke="#444" stroke-width="0.6"/>
<path d="M8.24,47.40 L8.24,32.00 L9.20,32.00 L6.20,27.80 L3.20,32.00 L4.16,32.00 L4.16,47.40 Z M8.24,65.80 L8.24,52.80 L9.20,52.80 L6.20,48.60 L3.20,52.80 L4.16,52.80 L4.16,65.80 Z M26.34,46.80 L26.34,32.60 L27.30,32.60 L24.30,28.40 L21.30,32.60 L22.26,32.60 L22.26,46.80 Z M26.34,66.40 L26.34,52.80 L27.30,52.80 L24.30,48.60 L21.30,52.80 L22.26,52.80 L22.26,66.40 Z" fill="#fff" stroke="#3c3c3c" stroke-width="0.8"/>
<path d="M10.7,23.1 L20.1,26.7" stroke="#666" stroke-width="2.0" stroke-dasharray="0.7 0.5"/>
<path d="M19.03,28.11 L22.15,27.49 L20.24,24.93 Z" fill="#666" stroke="none"/>
<path d="M13.6,71.1 L22.5,69.3" stroke="#666" stroke-width="2.0" stroke-dasharray="0.7 0.5"/>
<path d="M22.35,71.07 L24.66,68.86 L21.67,67.73 Z" fill="#666" stroke="none"/>
</g>
<g transform="translate(349.7 692.5) scale(1 1.018)" fill="none" stroke="#3c3c3c" stroke-width="0.9" stroke-linejoin="round">
<path d="M0,5.2 Q0.1,0.4 3.9,0.2 L27.0,13.6 Q30.2,15.4 30.3,18.6 L30.3,89.6 Q30.3,94.6 27.0,93.4 L4.2,80.2 Q0.3,77.6 0,74.0 Z" fill="#fff" stroke-width="1.05"/>
<path d="M1.6,6.2 Q1.8,2.8 4.4,2.6 L26.0,15.2 Q28.6,16.6 28.7,19.4 L28.7,88.6 Q28.6,91.8 26.3,90.9 L5.2,78.6 Q1.8,76.2 1.6,73.2 Z" stroke="#8a8a8a" stroke-width="0.55"/>
<path d="M0.6,17.8 L14.6,17.2 M11.0,10.6 L16.2,17.9 L17.6,17.0 M10.6,74.0 L17.6,75.4 L19.6,79.4 M17.6,75.4 L29.5,76.8 M0.8,68 L2.4,70" stroke="#444" stroke-width="0.7"/>
<ellipse cx="6.4" cy="8.0" rx="5.2" ry="6.7" fill="#fff" stroke="#3c3c3c" stroke-width="1.1"/>
<ellipse cx="6.7" cy="8.2" rx="3.9000000000000004" ry="5.300000000000001" stroke="#9a9a9a" stroke-width="0.9"/>
<ellipse cx="23.6" cy="19.5" rx="5.2" ry="6.4" fill="#fff" stroke="#3c3c3c" stroke-width="1.1"/>
<ellipse cx="23.900000000000002" cy="19.7" rx="3.9000000000000004" ry="5.0" stroke="#9a9a9a" stroke-width="0.9"/>
<ellipse cx="5.6" cy="74.0" rx="5.5" ry="7.0" fill="#fff" stroke="#3c3c3c" stroke-width="1.1"/>
<ellipse cx="5.8999999999999995" cy="74.2" rx="4.2" ry="5.6" stroke="#9a9a9a" stroke-width="0.9"/>
<ellipse cx="23.5" cy="85.2" rx="5.5" ry="7.4" fill="#fff" stroke="#3c3c3c" stroke-width="1.1"/>
<ellipse cx="23.8" cy="85.4" rx="4.2" ry="6.0" stroke="#9a9a9a" stroke-width="0.9"/>
<path d="M14.2,7.6 L14.2,9.6 L15.6,10.2 M14.6,86.4 L14.6,88.4 L16,89.2" stroke="#444" stroke-width="0.6"/>
<path d="M8.92,43.20 L8.92,28.90 L10.40,28.90 L6.50,23.70 L2.60,28.90 L4.08,28.90 L4.08,43.20 Z M8.92,65.20 L8.92,50.20 L10.40,50.20 L6.50,45.00 L2.60,50.20 L4.08,50.20 L4.08,65.20 Z M27.30,49.20 L27.30,40.10 L28.20,40.10 L26.40,36.70 L24.60,40.10 L25.50,40.10 L25.50,49.20 Z M27.30,66.40 L27.30,57.30 L28.20,57.30 L26.40,53.90 L24.60,57.30 L25.50,57.30 L25.50,66.40 Z M11.21,24.43 L21.53,32.37 L21.53,32.37 L22.40,31.40 L23.11,30.31 L23.11,30.31 L12.79,22.37 Z" fill="#fff" stroke="#3c3c3c" stroke-width="0.8"/>
<path d="M14.6,72.9 L25.2,69.9" stroke="#666" stroke-width="2.0" stroke-dasharray="0.7 0.5"/>
<path d="M25.18,71.67 L27.32,69.30 L24.26,68.40 Z" fill="#666" stroke="none"/>
</g>
<g transform="translate(417.5 693.0) scale(1 1.018)" fill="none" stroke="#3c3c3c" stroke-width="0.9" stroke-linejoin="round">
<path d="M0,5.2 Q0.1,0.4 3.9,0.2 L27.0,13.6 Q30.2,15.4 30.3,18.6 L30.3,89.6 Q30.3,94.6 27.0,93.4 L4.2,80.2 Q0.3,77.6 0,74.0 Z" fill="#fff" stroke-width="1.05"/>
<path d="M1.6,6.2 Q1.8,2.8 4.4,2.6 L26.0,15.2 Q28.6,16.6 28.7,19.4 L28.7,88.6 Q28.6,91.8 26.3,90.9 L5.2,78.6 Q1.8,76.2 1.6,73.2 Z" stroke="#8a8a8a" stroke-width="0.55"/>
<path d="M0.6,22.6 L17.8,16.4 M0.6,60.2 L15.6,73.8 L19.4,79.8 M11.0,10.6 L16.4,16.8" stroke="#444" stroke-width="0.7"/>
<ellipse cx="6.4" cy="8.0" rx="5.2" ry="6.7" fill="#fff" stroke="#3c3c3c" stroke-width="1.1"/>
<ellipse cx="6.7" cy="8.2" rx="3.9000000000000004" ry="5.300000000000001" stroke="#9a9a9a" stroke-width="0.9"/>
<ellipse cx="23.6" cy="19.5" rx="5.2" ry="6.4" fill="#fff" stroke="#3c3c3c" stroke-width="1.1"/>
<ellipse cx="23.900000000000002" cy="19.7" rx="3.9000000000000004" ry="5.0" stroke="#9a9a9a" stroke-width="0.9"/>
<ellipse cx="5.6" cy="74.0" rx="5.5" ry="7.0" fill="#fff" stroke="#3c3c3c" stroke-width="1.1"/>
<ellipse cx="5.8999999999999995" cy="74.2" rx="4.2" ry="5.6" stroke="#9a9a9a" stroke-width="0.9"/>
<ellipse cx="23.5" cy="85.2" rx="5.5" ry="7.4" fill="#fff" stroke="#3c3c3c" stroke-width="1.1"/>
<ellipse cx="23.8" cy="85.4" rx="4.2" ry="6.0" stroke="#9a9a9a" stroke-width="0.9"/>
<path d="M14.2,7.6 L14.2,9.6 L15.6,10.2 M14.6,86.4 L14.6,88.4 L16,89.2" stroke="#444" stroke-width="0.6"/>
<path d="M21.46,32.00 L21.46,45.70 L20.10,45.70 L24.00,50.90 L27.90,45.70 L26.54,45.70 L26.54,32.00 Z M21.46,54.50 L21.46,68.30 L20.10,68.30 L24.00,73.50 L27.90,68.30 L26.54,68.30 L26.54,54.50 Z M16.18,18.42 L9.33,22.10 L8.94,21.38 L7.10,24.30 L10.55,24.38 L10.16,23.66 L17.02,19.98 Z M8.28,62.90 L15.98,69.69 L15.41,70.33 L19.00,71.10 L17.79,67.63 L17.22,68.28 L9.52,61.50 Z" fill="#fff" stroke="#3c3c3c" stroke-width="0.8"/>
<path d="M4.5,27.8 L4.5,36.7" stroke="#555" stroke-width="2.2" stroke-dasharray="0.7 0.5"/>
<path d="M2.6,35.9 L4.5,39.1 L6.4,35.9 Z" fill="#666" stroke="none"/>
<path d="M4.5,44.4 L4.5,53.9" stroke="#555" stroke-width="2.2" stroke-dasharray="0.7 0.5"/>
<path d="M2.6,53.099999999999994 L4.5,56.3 L6.4,53.099999999999994 Z" fill="#666" stroke="none"/>
</g>
<g transform="translate(486.0 692.3) scale(1 1.018)" fill="none" stroke="#3c3c3c" stroke-width="0.9" stroke-linejoin="round">
<path d="M0,5.2 Q0.1,0.4 3.9,0.2 L27.0,13.6 Q30.2,15.4 30.3,18.6 L30.3,89.6 Q30.3,94.6 27.0,93.4 L4.2,80.2 Q0.3,77.6 0,74.0 Z" fill="#fff" stroke-width="1.05"/>
<path d="M1.6,6.2 Q1.8,2.8 4.4,2.6 L26.0,15.2 Q28.6,16.6 28.7,19.4 L28.7,88.6 Q28.6,91.8 26.3,90.9 L5.2,78.6 Q1.8,76.2 1.6,73.2 Z" stroke="#8a8a8a" stroke-width="0.55"/>
<path d="M0.6,17.8 L14.6,17.2 M11.0,10.6 L16.2,17.9 L17.6,17.0 M10.6,74.0 L17.6,75.4 L19.6,79.4 M17.6,75.4 L29.5,76.8 M0.8,68 L2.4,70" stroke="#444" stroke-width="0.7"/>
<ellipse cx="6.4" cy="8.0" rx="5.2" ry="6.7" fill="#fff" stroke="#3c3c3c" stroke-width="1.1"/>
<ellipse cx="6.7" cy="8.2" rx="3.9000000000000004" ry="5.300000000000001" stroke="#9a9a9a" stroke-width="0.9"/>
<ellipse cx="23.6" cy="19.5" rx="5.2" ry="6.4" fill="#fff" stroke="#3c3c3c" stroke-width="1.1"/>
<ellipse cx="23.900000000000002" cy="19.7" rx="3.9000000000000004" ry="5.0" stroke="#9a9a9a" stroke-width="0.9"/>
<ellipse cx="5.6" cy="74.0" rx="5.5" ry="7.0" fill="#fff" stroke="#3c3c3c" stroke-width="1.1"/>
<ellipse cx="5.8999999999999995" cy="74.2" rx="4.2" ry="5.6" stroke="#9a9a9a" stroke-width="0.9"/>
<ellipse cx="23.5" cy="85.2" rx="5.5" ry="7.4" fill="#fff" stroke="#3c3c3c" stroke-width="1.1"/>
<ellipse cx="23.8" cy="85.4" rx="4.2" ry="6.0" stroke="#9a9a9a" stroke-width="0.9"/>
<path d="M14.2,7.6 L14.2,9.6 L15.6,10.2 M14.6,86.4 L14.6,88.4 L16,89.2" stroke="#444" stroke-width="0.6"/>
<path d="M8.92,43.20 L8.92,28.90 L10.40,28.90 L6.50,23.70 L2.60,28.90 L4.08,28.90 L4.08,43.20 Z M8.92,65.20 L8.92,50.20 L10.40,50.20 L6.50,45.00 L2.60,50.20 L4.08,50.20 L4.08,65.20 Z M27.30,49.20 L27.30,40.10 L28.20,40.10 L26.40,36.70 L24.60,40.10 L25.50,40.10 L25.50,49.20 Z M27.30,66.40 L27.30,57.30 L28.20,57.30 L26.40,53.90 L24.60,57.30 L25.50,57.30 L25.50,66.40 Z M11.21,24.43 L21.53,32.37 L21.53,32.37 L22.40,31.40 L23.11,30.31 L23.11,30.31 L12.79,22.37 Z" fill="#fff" stroke="#3c3c3c" stroke-width="0.8"/>
<path d="M14.6,72.9 L25.2,69.9" stroke="#666" stroke-width="2.0" stroke-dasharray="0.7 0.5"/>
<path d="M25.18,71.67 L27.32,69.30 L24.26,68.40 Z" fill="#666" stroke="none"/>
</g>
<g fill="none" stroke="#111" stroke-width="0.9"><path d="M376.2,585 L376.2,632.4 L346,632.4 M376.2,614.2 L394,614.2"/><path d="M392.5,702 L392.5,728 L380.5,731.4 M392.5,728 L417.5,745.6"/><path d="M460.5,702 L460.5,728 L448.2,731.4 M460.5,728 L486,745.6"/></g><path d="M342.6,632.4 L347.2,630.4 L347.2,634.4 Z M398,614.2 L393.4,612.2 L393.4,616.2 Z" fill="#111"/><text class="tiny l" transform="translate(359.2 571.2) scale(0.5)" x="0" y="0" textLength="58.4" lengthAdjust="spacing">流速相同</text>
<text class="tiny l" transform="translate(359.2 579.3) scale(0.5)" x="0" y="0" textLength="58.4" lengthAdjust="spacing">积垢相同</text>
<text class="tiny l" transform="translate(376.5 692.2) scale(0.5)" x="0" y="0" textLength="44.4" lengthAdjust="spacing">低流速</text>
<text class="tiny l" transform="translate(376.5 700.3) scale(0.5)" x="0" y="0" textLength="44.4" lengthAdjust="spacing">积垢快</text>
<text class="tiny l" transform="translate(446.2 692.2) scale(0.5)" x="0" y="0" textLength="44.4" lengthAdjust="spacing">高流速</text>
<text class="tiny l" transform="translate(446.2 700.3) scale(0.5)" x="0" y="0" textLength="44.4" lengthAdjust="spacing">积垢少</text>
<text class="b l" font-size="11.9" x="502.3" y="630.8" textLength="61.6" lengthAdjust="spacing">对角流设计</text>
<text class="b l" font-size="11.9" x="520.8" y="748.7" textLength="62.4" lengthAdjust="spacing">单边流设计</text>
</svg>
</body>
</html>
